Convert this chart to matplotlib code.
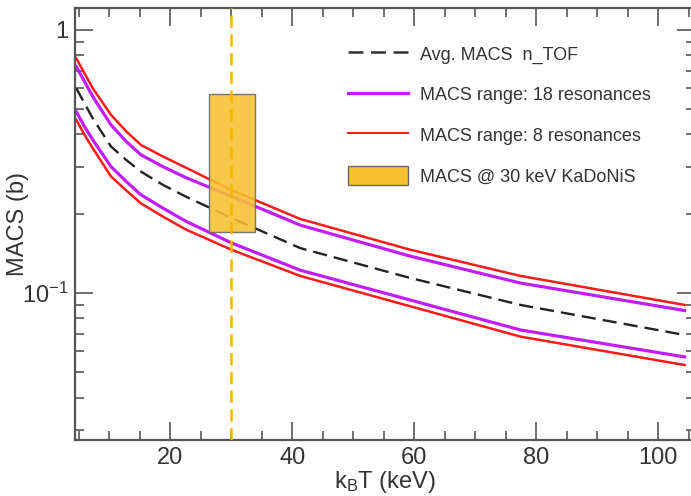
import matplotlib
matplotlib.use("Agg")
import matplotlib.pyplot as plt
from matplotlib.lines import Line2D
from matplotlib.patches import Patch, Rectangle
from matplotlib.ticker import MultipleLocator, NullFormatter

plt.rcParams['font.family'] = ['Liberation Sans', 'DejaVu Sans']
plt.rcParams['mathtext.fontset'] = 'custom'
plt.rcParams['mathtext.rm'] = 'Liberation Sans'
plt.rcParams['mathtext.it'] = 'Liberation Sans'

kT = [4.6, 5.95, 7.3, 10.3, 12.8, 15.2, 18.8, 22.6, 30, 41.3, 59.3, 77.4, 104.3]

# MACS values (b)
red_hi = [0.780, 0.684, 0.600, 0.475, 0.411, 0.365, 0.330, 0.299, 0.246, 0.191, 0.146, 0.116, 0.090]
purple_hi = [0.725, 0.636, 0.558, 0.435, 0.376, 0.335, 0.302, 0.274, 0.233, 0.181, 0.138, 0.109, 0.0857]
avg = [0.600, 0.526, 0.461, 0.360, 0.320, 0.289, 0.2575, 0.232, 0.193, 0.148, 0.114, 0.090, 0.0692]
purple_lo = [0.489, 0.429, 0.382, 0.302, 0.265, 0.236, 0.210, 0.187, 0.155, 0.122, 0.094, 0.0723, 0.0571]
red_lo = [0.455, 0.399, 0.355, 0.277, 0.245, 0.219, 0.195, 0.174, 0.146, 0.116, 0.089, 0.0682, 0.0532]

# KaDoNiS box at 30 keV
kad_x = [26.4, 33.9]
kad_y = [0.171, 0.571]
kad_kT = 30

red = '#ff1a1a'
purple = '#c21cff'
gold = '#f7c12e'
orange = '#f7b400'
grey = '#555555'

fig = plt.figure(figsize=(6.91, 4.96), dpi=100)
ax = fig.add_axes([75/691, 56/496, 620/691, 432/496])

ax.plot(kT, red_hi, color=red, lw=1.8)
ax.plot(kT, red_lo, color=red, lw=1.8)
ax.plot(kT, purple_hi, color=purple, lw=2.3)
ax.plot(kT, purple_lo, color=purple, lw=2.3)
ax.plot(kT, avg, color='#222222', lw=1.7, dashes=(6, 3))

ax.add_patch(Rectangle((kad_x[0], kad_y[0]), kad_x[1]-kad_x[0], kad_y[1]-kad_y[0],
                       facecolor=gold, edgecolor='#666666', lw=1.0, alpha=0.88, zorder=3))
ax.axvline(kad_kT, color=orange, lw=1.8, dashes=(5, 2.5), zorder=4)

ax.set_yscale('log')
ax.set_xlim(4.4, 106)
ax.set_ylim(0.0276, 1.21)

ax.set_yticks([0.1, 1], labels=[r'$10^{-1}$', '1'])
ax.yaxis.set_minor_formatter(NullFormatter())
ax.xaxis.set_major_locator(MultipleLocator(20))
ax.xaxis.set_minor_locator(MultipleLocator(5))

ax.tick_params(which='both', direction='in', top=True, right=True,
               color=grey, labelcolor='#333333', labelsize=17, width=1.2)
ax.tick_params(which='major', length=13, pad=5)
ax.tick_params(which='minor', length=6.5)
for s in ax.spines.values():
    s.set_color(grey)
    s.set_linewidth(1.6)

ax.set_xlabel(r'k$_\mathrm{B}$T (keV)', fontsize=17, color='#333333', labelpad=0)
ax.set_ylabel('MACS (b)', fontsize=17, color='#333333')
ax.yaxis.set_label_coords(-0.074, 0.5)

handles = [
    Line2D([], [], color='#333333', lw=1.8, dashes=(6, 3)),
    Line2D([], [], color=purple, lw=2.3),
    Line2D([], [], color=red, lw=1.5),
    Patch(facecolor=gold, edgecolor='#666666', lw=1.0),
]
labels = ['Avg. MACS  n_TOF', 'MACS range: 18 resonances',
          'MACS range: 8 resonances', 'MACS @ 30 keV KaDoNiS']
fig.legend(handles, labels, loc='upper left', bbox_to_anchor=(348/691, 1-44/496),
           frameon=False, fontsize=13, handlelength=3.3, handleheight=1.2,
           handletextpad=0.67, labelspacing=1.18, borderpad=0, borderaxespad=0,
           labelcolor='#333333')

fig.savefig('out.png', dpi=100)
